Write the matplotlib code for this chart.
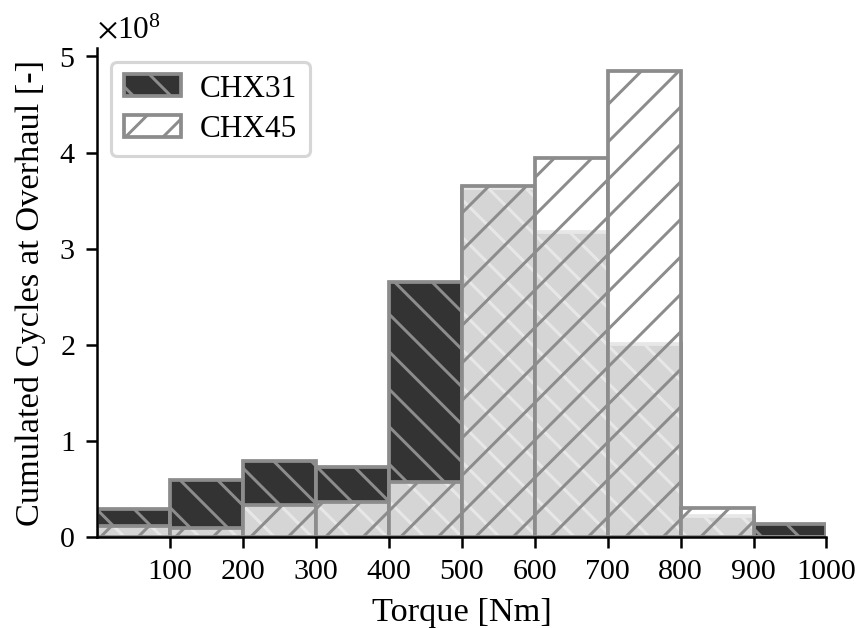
import matplotlib
matplotlib.use("Agg")
import matplotlib.pyplot as plt
from matplotlib.ticker import ScalarFormatter

# ---- data ----
bin_edges = [0, 100, 200, 300, 400, 500, 600, 700, 800, 900, 1000]
chx31 = [0.29e8, 0.59e8, 0.79e8, 0.73e8, 2.65e8, 3.63e8, 3.17e8, 2.01e8, 0.22e8, 0.135e8]
chx45 = [0.115e8, 0.09e8, 0.33e8, 0.36e8, 0.57e8, 3.656e8, 3.94e8, 4.85e8, 0.30e8, 0.0]
labels = ["CHX31", "CHX45"]
xticks = [100, 200, 300, 400, 500, 600, 700, 800, 900, 1000]

DPI = 225
plt.rcParams["font.family"] = ["Liberation Serif", "DejaVu Serif"]
plt.rcParams["mathtext.fontset"] = "stix"
plt.rcParams["hatch.linewidth"] = 0.95

fig = plt.figure(figsize=(856.5 / DPI, 628.5 / DPI), dpi=DPI)
ax = fig.add_axes([97 / 856, 1 - 537 / 628, (826 - 97) / 856, (537 - 48) / 628])

left = bin_edges[:-1]
widths = [b - a for a, b in zip(bin_edges[:-1], bin_edges[1:])]
edge_gray = (0.55, 0.55, 0.55)

ax.bar(left, chx31, width=widths, align="edge", facecolor="#333333",
       edgecolor=edge_gray, linewidth=1.2, hatch="\\\\", label=labels[0])
ax.bar(left, chx45, width=widths, align="edge", facecolor=(1, 1, 1, 0.8),
       edgecolor=edge_gray, linewidth=1.2, hatch="//", label=labels[1])

ax.set_xlim(bin_edges[0], bin_edges[-1])
ax.set_xticks(xticks)
ax.spines["top"].set_visible(False)
ax.spines["right"].set_visible(False)

fmt = ScalarFormatter(useMathText=True)
fmt.set_powerlimits((0, 0))
ax.yaxis.set_major_formatter(fmt)
ax.yaxis.get_offset_text().set_fontsize(10)

ax.tick_params(labelsize=9.6)
ax.set_xlabel("Torque [Nm]", fontsize=11)
ax.set_ylabel("Cumulated Cycles at Overhaul [-]", fontsize=11)

ax.legend(loc="upper left", fontsize=10, handlelength=1.85, handleheight=0.68,
          handletextpad=0.6, labelspacing=0.38, borderaxespad=0.45)

fig.savefig("out.png", dpi=DPI)
